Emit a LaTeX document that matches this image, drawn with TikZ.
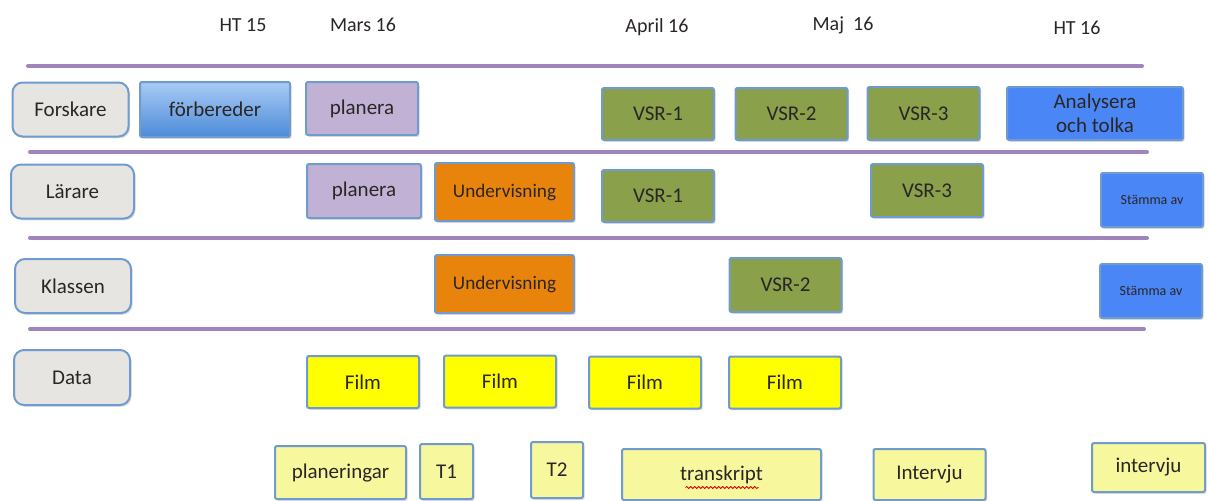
\documentclass[tikz,border=0pt]{standalone}
\usepackage{fontspec}
\setmainfont{Carlito}
\usepackage{tikz}
\usetikzlibrary{shadows, decorations.pathmorphing}
\definecolor{laneline}{HTML}{A084BC}
\definecolor{rolefill}{HTML}{E7E5E1}
\definecolor{boxedge}{HTML}{6F9BCE}
\definecolor{prepTop}{HTML}{A9CBF5}
\definecolor{prepBot}{HTML}{4C8BD8}
\definecolor{planfill}{HTML}{C1B2D5}
\definecolor{teachfill}{HTML}{E8830C}
\definecolor{vsrfill}{HTML}{8AA04B}
\definecolor{brightblue}{HTML}{4A86F6}
\definecolor{filmfill}{HTML}{FFFF00}
\definecolor{datafill}{HTML}{F7F79E}
\definecolor{textdark}{HTML}{2B2626}

\begin{document}
\begin{tikzpicture}[x=0.5pt, y=-0.5pt,
    every node/.style={font=\fontsize{10.5}{12}\selectfont, text=textdark},
    box/.style={draw=boxedge, line width=1pt, rounded corners=1pt, minimum width=56pt, minimum height=26.5pt, inner sep=1pt,
      drop shadow={shadow xshift=0.8pt, shadow yshift=-0.9pt, opacity=0.25}},
    role/.style={box, fill=rolefill, rounded corners=5pt, minimum width=58pt, minimum height=27pt},
    prep/.style={box, top color=prepTop, bottom color=prepBot, minimum width=75pt, minimum height=27.5pt},
    plan/.style={box, fill=planfill},
    teach/.style={box, fill=teachfill, minimum width=69.5pt, minimum height=29pt, font=\fontsize{9.6}{11}\selectfont},
    vsr/.style={box, fill=vsrfill},
    blue/.style={box, fill=brightblue},
    tune/.style={blue, minimum width=51pt, minimum height=27pt, font=\fontsize{7}{8}\selectfont},
    film/.style={box, fill=filmfill, minimum height=26pt},
    doc/.style={box, fill=datafill},
    head/.style={font=\fontsize{10}{12}\selectfont},
    lane/.style={laneline, line width=2pt, line cap=round},
    spell/.style={red!85!black, line width=0.4pt, decorate, decoration={snake, segment length=2pt, amplitude=0.5pt}}]
  \useasboundingbox (0,0) rectangle (1209,500);

  % time line
  \node[head] (ht15) at (243,25) {HT 15};
  \node[head] (mar16) at (363,25) {Mars 16};
  \node[head] (apr16) at (657,27) {April 16};
  \node[head] (maj16) at (843,25) {Maj\ \ 16};
  \node[head] (ht16) at (1077,28) {HT 16};

  % lanes
  \draw[lane] (28,66) -- (1142,66);
  \draw[lane] (30,152) -- (1147,152);
  \draw[lane] (30,238) -- (1147,238);
  \draw[lane] (30,329) -- (1144,329);

  % roles
  \node[role] (forskare) at (70.5,109.5) {Forskare};
  \node[role, minimum width=61.5pt] (larare) at (72.5,191.5) {Lärare};
  \node[role] (klassen) at (73,286) {Klassen};
  \node[role, minimum height=27.5pt] (data) at (72,377.5) {Data};

  % Forskare
  \node[prep] (forb) at (215,109.5) {förbereder};
  \node[plan] (planF) at (362,108.5) {planera};
  \node[vsr, minimum height=26pt] (vsr1F) at (658,114) {VSR-1};
  \node[vsr, minimum height=26pt] (vsr2F) at (791.5,114) {VSR-2};
  \node[vsr] (vsr3F) at (923.5,113.5) {VSR-3};
  \node[blue, minimum width=88pt, align=center, font=\fontsize{10.5}{12}\selectfont] (analys) at (1095,113.5) {Analysera\\och tolka};

  % Lärare
  \node[plan, minimum width=57pt, minimum height=27pt] (planL) at (364,191) {planera};
  \node[teach] (undL) at (504.5,192) {Undervisning};
  \node[vsr, minimum height=26pt] (vsr1L) at (658,196) {VSR-1};
  \node[vsr] (vsr3L) at (927,190.5) {VSR-3};
  \node[tune] (stamL) at (1152,200) {Stämma av};

  % Klassen
  \node[teach] (undK) at (504.5,284) {Undervisning};
  \node[vsr, minimum height=27pt] (vsr2K) at (785.5,285) {VSR-2};
  \node[tune] (stamK) at (1151,291) {Stämma av};

  % Data
  \node[film] (film1) at (363,382) {Film};
  \node[film] (film2) at (500,381.5) {Film};
  \node[film] (film3) at (645,382.5) {Film};
  \node[film] (film4) at (785,382.5) {Film};

  \node[doc, minimum width=65.5pt] (planer) at (340.5,472.5) {planeringar};
  \node[doc, minimum width=26.5pt, minimum height=27.5pt] (t1) at (446.5,471.5) {T1};
  \node[doc, minimum width=26pt, minimum height=28pt] (t2) at (557,470) {T2};
  \node[doc, minimum width=99.5pt, minimum height=25.5pt] (trk) at (721.5,474.5) {transkript};
  \node[doc, minimum height=25.5pt] (intv1) at (929.5,474.5) {Intervju};
  \node[doc, minimum width=56.5pt, minimum height=24.5pt] (intv2) at (1148.5,467.5) {intervju};
  \draw[spell] ([xshift=-18pt, yshift=-6.5pt]trk.center) -- ([xshift=18.5pt, yshift=-6.5pt]trk.center);
\end{tikzpicture}
\end{document}
